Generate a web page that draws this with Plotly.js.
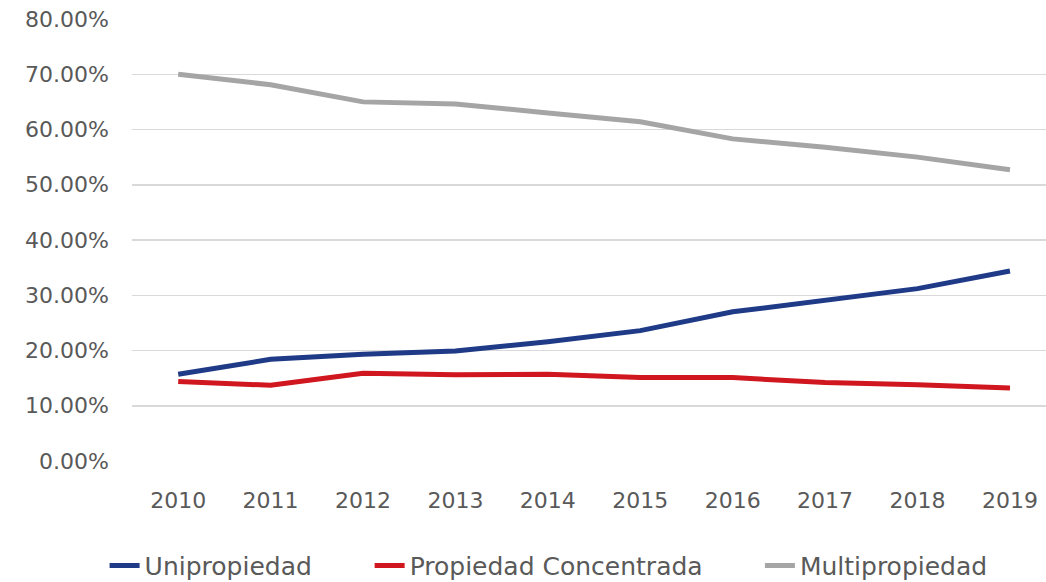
<!DOCTYPE html>
<html>
<head>
<meta charset="utf-8">
<script src="https://cdn.plot.ly/plotly-3.0.1.min.js"></script>
<style>html,body{margin:0;padding:0;background:#fff;}#chart{width:1046px;height:582px;}</style>
</head>
<body>
<div id="chart"></div>
<script>
const years = ['2010','2011','2012','2013','2014','2015','2016','2017','2018','2019'];
const unipropiedad = [15.7, 18.4, 19.3, 19.9, 21.6, 23.6, 27.0, 29.0, 31.2, 34.4];
const propiedadConcentrada = [14.4, 13.7, 15.9, 15.6, 15.7, 15.1, 15.1, 14.2, 13.8, 13.2];
const multipropiedad = [70.0, 68.1, 65.0, 64.6, 63.0, 61.4, 58.3, 56.8, 55.0, 52.7];
const seriesNames = ['Unipropiedad', 'Propiedad Concentrada', 'Multipropiedad'];
const colors = ['#1F3A87', '#D0161F', '#A5A5A5'];
const legendIds = ['legend', 'legend2', 'legend3'];

const data = [unipropiedad, propiedadConcentrada, multipropiedad].map((v, i) => ({
  x: years, y: v, type: 'scatter', mode: 'lines', name: seriesNames[i],
  legend: legendIds[i],
  line: {color: colors[i], width: 5}
}));

const legendBase = {orientation: 'h', xanchor: 'left', y: -0.185, yanchor: 'top',
                    font: {size: 25, color: '#595959'}, bgcolor: 'rgba(0,0,0,0)'};

const layout = {
  width: 1046, height: 582,
  margin: {l: 132, r: 0, t: 19, b: 121, autoexpand: false},
  paper_bgcolor: '#ffffff', plot_bgcolor: 'rgba(0,0,0,0)',
  font: {family: '"DejaVu Sans", sans-serif', color: '#595959', size: 20},
  showlegend: true,
  legend: Object.assign({}, legendBase, {x: -0.03}),
  legend2: Object.assign({}, legendBase, {x: 0.26}),
  legend3: Object.assign({}, legendBase, {x: 0.687}),
  xaxis: {type: 'category', range: [-0.5, 9.39], showgrid: false, zeroline: false,
          showline: false, ticks: '', ticklabelstandoff: 24, automargin: false, tickfont: {size: 22}},
  yaxis: {range: [0, 80], dtick: 10, tick0: 0, tickformat: '.2f', ticksuffix: '%',
          showgrid: true, gridcolor: '#D9D9D9', gridwidth: 1.5, zeroline: false, automargin: false,
          showline: false, ticks: '', ticklabelstandoff: 22, tickfont: {size: 22}}
};

Plotly.newPlot('chart', data, layout, {displayModeBar: false, staticPlot: true});
</script>
</body>
</html>
